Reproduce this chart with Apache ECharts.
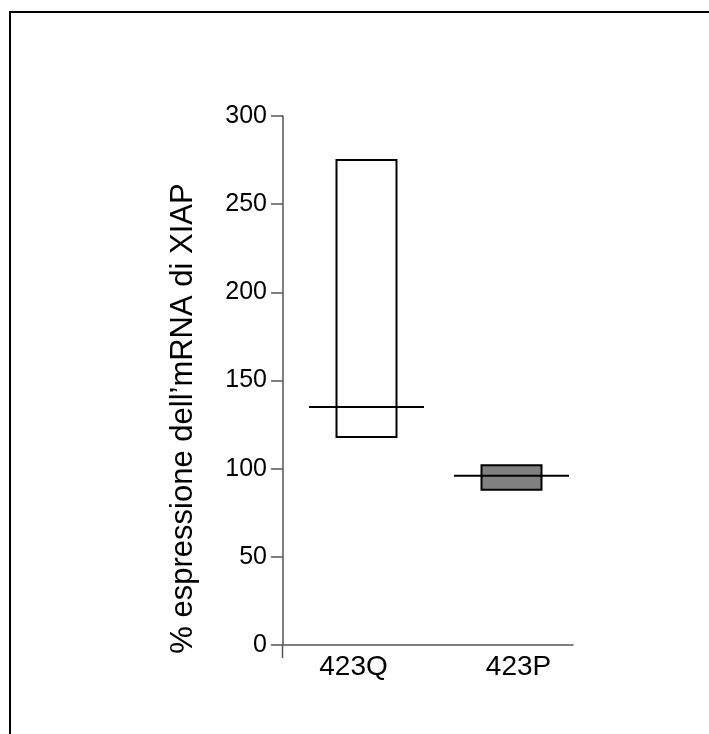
<!DOCTYPE html>
<html>
<head>
<meta charset="utf-8">
<script src="https://cdn.jsdelivr.net/npm/echarts@6/dist/echarts.min.js"></script>
<style>html,body{margin:0;padding:0;background:#fff}#c{width:709px;height:734px}</style>
</head>
<body>
<div id="c"></div>
<script>
// Data
var categories = ['423Q', '423P'];
var boxLow = [118, 88];     // bottom of the box
var boxHigh = [275, 102];   // top of the box
var centerLine = [135, 96]; // horizontal line across box
var boxFills = ['#ffffff', '#808080'];
var yTicks = [0, 50, 100, 150, 200, 250, 300];
var yTitle = '% espressione dell\u2019mRNA di XIAP';

var FONT = '"Liberation Sans", Arial, sans-serif';
var BOX_W = 60, LINE_W = 115, SHIFT = 11;
var labelPads = [[0, 4, 0, 0], [0, 0, 0, 36]];

var seriesData = categories.map(function (c, i) {
  return [i, boxLow[i], boxHigh[i], centerLine[i]];
});

var chart = echarts.init(document.getElementById('c'), null, {renderer: 'canvas'});
chart.setOption({
  animation: false,
  backgroundColor: '#fff',
  grid: {left: 283, top: 116, width: 290, height: 529, containLabel: false},
  xAxis: {
    type: 'category',
    data: categories.map(function (c, i) {
      return {value: c, textStyle: {padding: labelPads[i]}};
    }),
    boundaryGap: true,
    axisLine: {lineStyle: {color: '#555', width: 1.5}},
    axisTick: {show: false},
    axisLabel: {color: '#000', fontFamily: FONT, fontSize: 28, margin: 8}
  },
  yAxis: {
    type: 'value',
    min: yTicks[0],
    max: yTicks[yTicks.length - 1],
    interval: yTicks[1] - yTicks[0],
    splitLine: {show: false},
    axisLine: {show: true, lineStyle: {color: '#555', width: 1.5}},
    axisTick: {show: true, length: 12, lineStyle: {color: '#555', width: 1.5}},
    axisLabel: {color: '#000', fontFamily: FONT, fontSize: 25, margin: 16, padding: [0, 0, 8, 0]},
    name: yTitle,
    nameLocation: 'middle',
    nameGap: 84,
    nameTextStyle: {color: '#000', fontFamily: FONT, fontSize: 31, padding: [0, 76, 0, 0]}
  },
  graphic: [
    {type: 'rect', shape: {x: 10, y: 12, width: 900, height: 900}, style: {fill: 'none', stroke: '#000', lineWidth: 2}, silent: true},
    {type: 'line', shape: {x1: 282.5, y1: 645, x2: 282.5, y2: 658}, style: {stroke: '#555', lineWidth: 1.5}, silent: true}
  ],
  series: [{
    type: 'custom',
    data: seriesData,
    encode: {x: 0, y: [1, 2, 3]},
    renderItem: function (params, api) {
      var idx = api.value(0);
      var lo = api.coord([idx, api.value(1)]);
      var hi = api.coord([idx, api.value(2)]);
      var mid = api.coord([idx, api.value(3)]);
      var cx = lo[0] + SHIFT;
      return {
        type: 'group',
        children: [
          {type: 'rect', shape: {x: cx - BOX_W / 2, y: hi[1], width: BOX_W, height: lo[1] - hi[1]},
           style: {fill: boxFills[params.dataIndex], stroke: '#000', lineWidth: 2}},
          {type: 'line', shape: {x1: cx - LINE_W / 2, y1: mid[1], x2: cx + LINE_W / 2, y2: mid[1]},
           style: {stroke: '#000', lineWidth: 2}}
        ]
      };
    }
  }]
});
</script>
</body>
</html>
